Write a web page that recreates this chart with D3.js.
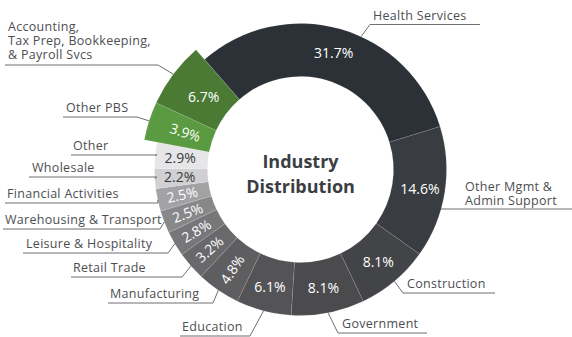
<!DOCTYPE html>
<html>
<head>
<meta charset="utf-8">
<script src="https://cdn.jsdelivr.net/npm/d3@7/dist/d3.min.js"></script>
<style>
  html, body { margin: 0; padding: 0; background: #fff; }
  svg { display: block; }
  text { font-family: "Open Sans", "Noto Sans", sans-serif; }
</style>
</head>
<body>
<svg id="chart" width="572" height="337"></svg>
<script>
// Industry shares, clockwise from Health Services
const categories = [
  "Health Services", "Other Mgmt & Admin Support", "Construction", "Government",
  "Education", "Manufacturing", "Retail Trade", "Leisure & Hospitality",
  "Warehousing & Transport", "Financial Activities", "Wholesale", "Other",
  "Other PBS", "Accounting, Tax Prep, Bookkeeping, & Payroll Svcs"
];
const shares = [31.7, 14.6, 8.1, 8.1, 6.1, 4.8, 3.2, 2.8, 2.5, 2.5, 2.2, 2.9, 3.9, 6.7];
const valueLabels = ["31.7%", "14.6%", "8.1%", "8.1%", "6.1%", "4.8%", "3.2%", "2.8%",
  "2.5%", "2.5%", "2.2%", "2.9%", "3.9%", "6.7%"];
// Segments in the professional & business services group are drawn raised
const highlighted = ["Other PBS", "Accounting, Tax Prep, Bookkeeping, & Payroll Svcs"];

const colors = ["#2b3137", "#393c40", "#434447", "#4b4b4e", "#545456", "#5e5e61",
  "#69696c", "#77777a", "#88888a", "#a2a2a4", "#d0d0d2", "#e6e6e8", "#5a9a40", "#4a7a34"];

const svg = d3.select("#chart");
const cx = 300.5, cy = 169.5;
const innerR = 93, outerR = 146, raisedR = 159, labelR = 121;
const deg = Math.PI / 180;
const start = -41.1 * deg;

const pie = d3.pie().sort(null).value(d => d).startAngle(start).endAngle(start + 2 * Math.PI);
const arcs = pie(shares);
const isRaised = i => highlighted.includes(categories[i]);
const outerOf = i => isRaised(i) ? raisedR : outerR;

const arc = d3.arc().innerRadius(innerR).outerRadius((d) => outerOf(d.index));
const g = svg.append("g").attr("transform", `translate(${cx},${cy})`);

g.selectAll("path.slice").data(arcs).join("path")
  .attr("class", "slice")
  .attr("d", arc)
  .attr("fill", (d, i) => colors[i])
  .attr("stroke", "rgba(255,255,255,0.18)")
  .attr("stroke-width", 0.6);

// Percentage labels inside the ring; small slices on the left follow the ring
const labelArc = d3.arc().innerRadius(labelR).outerRadius(labelR);
g.selectAll("text.pct").data(arcs).join("text")
  .attr("class", "pct")
  .attr("transform", d => {
    const [x, y] = labelArc.centroid(d);
    const mid = (d.startAngle + d.endAngle) / 2 / deg;
    let rot = ((mid % 360) + 360) % 360 - 270;
    if (!(d.value < 5 && Math.abs(rot) > 8)) rot = 0;
    return `translate(${x},${y}) rotate(${rot})`;
  })
  .attr("text-anchor", "middle")
  .attr("dy", "0.36em")
  .attr("font-size", 14)
  .attr("fill", (d, i) => (shares[i] < 3 && d3.hsl(colors[i]).l > 0.75) ? "#3a3c40" : "#ffffff")
  .text((d, i) => valueLabels[i]);

// Centre title
const title = svg.append("text")
  .attr("x", cx).attr("text-anchor", "middle")
  .attr("font-size", 18).attr("font-weight", 700).attr("fill", "#3b3e43");
title.append("tspan").attr("x", cx).attr("y", 168).text("Industry");
title.append("tspan").attr("x", cx).attr("y", 193).text("Distribution");

// Category callouts: text lines, underline and leader to the ring edge
const callouts = [
  { name: "Health Services", lines: ["Health Services"], x: 373, y: 20, uy: 24.5, ux0: 370, ux1: 480, side: "right", angle: 24.5 },
  { name: "Other Mgmt & Admin Support", lines: ["Other Mgmt &", "Admin Support"], x: 465, y: 191, uy: 209, ux0: null, ux1: 572, side: "right" },
  { name: "Construction", lines: ["Construction"], x: 407, y: 288, uy: 293, ux0: 403, ux1: 495, side: "right" },
  { name: "Government", lines: ["Government"], x: 342, y: 328, uy: 333, ux0: 338, ux1: 427, side: "right" },
  { name: "Education", lines: ["Education"], x: 182, y: 331, uy: 336, ux0: 180, ux1: 250, side: "left" },
  { name: "Manufacturing", lines: ["Manufacturing"], x: 110, y: 298, uy: 303, ux0: 108, ux1: 213, side: "left" },
  { name: "Retail Trade", lines: ["Retail Trade"], x: 73, y: 272, uy: 277, ux0: 71, ux1: 182, side: "left" },
  { name: "Leisure & Hospitality", lines: ["Leisure & Hospitality"], x: 26, y: 248, uy: 253, ux0: 23, ux1: 168, side: "left" },
  { name: "Warehousing & Transport", lines: ["Warehousing & Transport"], x: 5, y: 224, uy: 229, ux0: 3, ux1: 160, side: "left" },
  { name: "Financial Activities", lines: ["Financial Activities"], x: 7, y: 198, uy: 203, ux0: 5, ux1: 158, side: "left" },
  { name: "Wholesale", lines: ["Wholesale"], x: 32, y: 172, uy: 177, ux0: 29, ux1: 157, side: "left" },
  { name: "Other", lines: ["Other"], x: 73, y: 150, uy: 155, ux0: 71, ux1: 157, side: "left" },
  { name: "Other PBS", lines: ["Other PBS"], x: 66, y: 112, uy: 117, ux0: 63, ux1: 137, side: "left" },
  { name: "Accounting, Tax Prep, Bookkeeping, & Payroll Svcs", lines: ["Accounting,", "Tax Prep, Bookkeeping,", "& Payroll Svcs"], x: 8, y: 31, uy: 65, ux0: 5, ux1: 158, side: "left" }
];

const lab = svg.append("g");
callouts.forEach(c => {
  const i = categories.indexOf(c.name);
  const a = arcs[i];
  const r = outerOf(i);
  let ang;
  if (c.angle !== undefined) ang = c.angle * deg;
  else if (c.ux0 === null) ang = Math.PI - Math.acos((c.uy - cy) / r);
  else ang = (a.startAngle + a.endAngle) / 2;
  const px = cx + r * Math.sin(ang), py = cy - r * Math.cos(ang);
  const innerX = c.side === "left" ? c.ux1 : (c.ux0 === null ? px : c.ux0);
  const x0 = c.ux0 === null ? px : c.ux0;

  lab.append("line").attr("x1", x0).attr("x2", c.ux1).attr("y1", c.uy).attr("y2", c.uy)
    .attr("stroke", "#6f6f72").attr("stroke-width", 1);
  lab.append("line").attr("x1", innerX).attr("y1", c.uy).attr("x2", px).attr("y2", py)
    .attr("stroke", "#6f6f72").attr("stroke-width", 1);

  const t = lab.append("text").attr("font-size", 12.5).attr("letter-spacing", 0.3)
    .attr("fill", "#4d4e52");
  c.lines.forEach((ln, k) => {
    t.append("tspan").attr("x", c.x).attr("y", c.y + k * 14).text(ln);
  });
});
</script>
</body>
</html>
